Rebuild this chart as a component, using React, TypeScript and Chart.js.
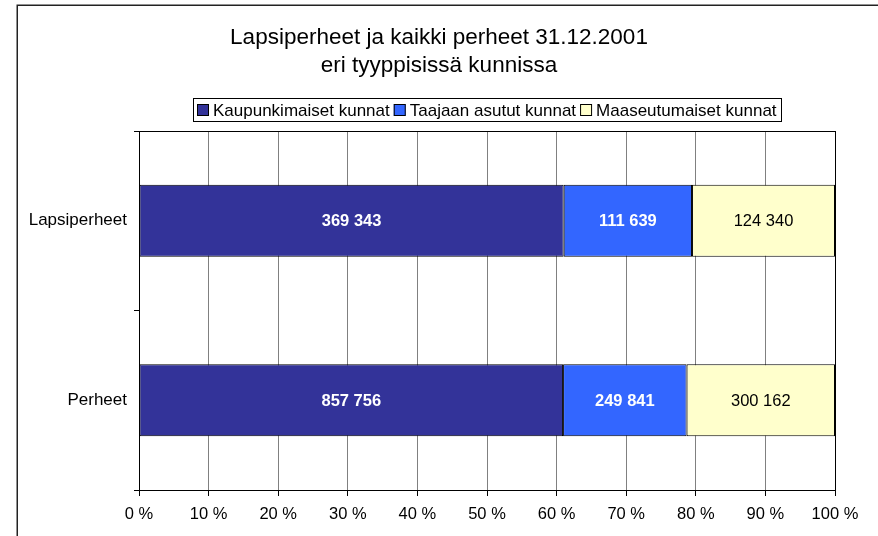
import React, { useEffect, useRef } from 'react';
import { Chart, registerables } from 'chart.js';

Chart.register(...registerables);

// ---- data ----
const categories = ['Lapsiperheet', 'Perheet'];
const seriesNames = ['Kaupunkimaiset kunnat', 'Taajaan asutut kunnat', 'Maaseutumaiset kunnat'];
const kaupunkimaiset = [369343, 857756];
const taajaanAsutut = [111639, 249841];
const maaseutumaiset = [124340, 300162];
const titleLines = ['Lapsiperheet ja kaikki perheet 31.12.2001', 'eri tyyppisissä kunnissa'];
const xTickMin = 0;
const xTickMax = 100;
const xTickStep = 10;

const seriesValues = [kaupunkimaiset, taajaanAsutut, maaseutumaiset];
const FONT = '"Liberation Sans", Arial, Helvetica, sans-serif';

const fmt = (v: number) => String(v).replace(/\B(?=(\d{3})+(?!\d))/g, ' ');

export default function App() {
  const ref = useRef<HTMLCanvasElement | null>(null);

  useEffect(() => {
    if (!ref.current) return;
    const totals = categories.map((_, i) => seriesValues.reduce((s, arr) => s + arr[i], 0));
    const fills = ['#333399', '#3366FF', '#FFFFCC'];
    const labelColors = ['#FFFFFF', '#FFFFFF', '#000000'];
    const labelWeights = ['bold', 'bold', 'normal'];

    const datasets = seriesValues.map((arr, k) => ({
      label: seriesNames[k],
      data: arr.map((v, i) => (v / totals[i]) * 100),
      backgroundColor: fills[k],
      borderColor: '#000000',
      borderWidth: 1,
      borderSkipped: false,
      categoryPercentage: 1,
      barPercentage: 0.4,
    }));

    const framePlugin = {
      id: 'frame',
      beforeDraw(chart: any) {
        const c = chart.ctx;
        c.save();
        c.strokeStyle = '#222';
        c.lineWidth = 1.5;
        c.strokeRect(17.25, 5.25, 2000, 2000);
        c.restore();
      },
    };

    const titlePlugin = {
      id: 'twoLineTitle',
      afterDraw(chart: any) {
        const c = chart.ctx;
        c.save();
        c.font = `22.5px ${FONT}`;
        c.fillStyle = '#000';
        c.textAlign = 'center';
        c.textBaseline = 'alphabetic';
        const cx = chart.width / 2;
        titleLines.forEach((line, i) => {
          c.fillText(line, cx, 43.5 + i * 28.4);
        });
        c.restore();
      },
    };

    const borderPlugin = {
      id: 'plotBorder',
      afterDatasetsDraw(chart: any) {
        const { left, top, right, bottom } = chart.chartArea;
        const c = chart.ctx;
        c.save();
        c.strokeStyle = '#000';
        c.lineWidth = 1;
        c.strokeRect(Math.round(left) + 0.5, Math.round(top) + 0.5, Math.round(right - left), Math.round(bottom - top));
        c.restore();
      },
    };

    const valueLabels = {
      id: 'valueLabels',
      afterDatasetsDraw(chart: any) {
        const c = chart.ctx;
        c.save();
        c.textAlign = 'center';
        c.textBaseline = 'middle';
        chart.data.datasets.forEach((ds: any, k: number) => {
          const meta = chart.getDatasetMeta(k);
          meta.data.forEach((el: any, i: number) => {
            const x = (el.x + el.base) / 2;
            c.fillStyle = labelColors[k];
            c.font = `${labelWeights[k]} 16.5px ${FONT}`;
            c.fillText(fmt(seriesValues[k][i]), x, el.y + 1);
          });
        });
        c.restore();
      },
    };

    const legendPlugin = {
      id: 'boxLegend',
      afterDraw(chart: any) {
        const c = chart.ctx;
        const area = chart.chartArea;
        c.save();
        c.font = `17px ${FONT}`;
        const sw = 12;
        const gap = 4;
        const itemGap = 4;
        const pad = 4;
        const widths = chart.data.datasets.map((d: any) => c.measureText(d.label).width);
        const total = pad * 2 + widths.reduce((s: number, w: number) => s + w + sw + gap, 0) + itemGap * (widths.length - 1);
        const cx = (area.left + area.right) / 2;
        const bx = Math.round(cx - total / 2);
        const by = 98;
        const bh = 23;
        c.strokeStyle = '#000';
        c.lineWidth = 1;
        c.strokeRect(bx + 0.5, by + 0.5, Math.round(total), bh);
        let x = bx + pad;
        const mid = by + bh / 2 + 0.5;
        c.textBaseline = 'middle';
        c.textAlign = 'left';
        chart.data.datasets.forEach((d: any, k: number) => {
          c.fillStyle = d.backgroundColor;
          c.fillRect(x, Math.round(mid - sw / 2), sw, sw);
          c.strokeStyle = '#000';
          c.strokeRect(x + 0.5, Math.round(mid - sw / 2) + 0.5, sw - 1, sw - 1);
          x += sw + gap;
          c.fillStyle = '#000';
          c.fillText(d.label, x, mid + 1);
          x += widths[k] + itemGap;
        });
        c.restore();
      },
    };

    const chart = new Chart(ref.current, {
      type: 'bar',
      data: { labels: categories, datasets },
      options: {
        animation: false,
        responsive: true,
        maintainAspectRatio: false,
        indexAxis: 'y',
        layout: { padding: { left: 0, right: 43, top: 131, bottom: 0 } },
        plugins: {
          legend: { display: false },
          tooltip: { enabled: false },
          title: { display: false },
        },
        scales: {
          x: {
            stacked: true,
            min: xTickMin,
            max: xTickMax,
            ticks: {
              stepSize: xTickStep,
              color: '#000',
              padding: 9,
              maxRotation: 0,
              font: { family: FONT, size: 16.5 },
              callback: (v: any) => `${v} %`,
            },
            grid: {
              color: '#808080',
              tickColor: '#000',
              tickLength: 6,
              lineWidth: 1,
            },
            border: { display: true, color: '#000' },
            afterFit: (s: any) => {
              s.height = 46;
            },
          },
          y: {
            stacked: true,
            ticks: {
              color: '#000',
              padding: 7,
              font: { family: FONT, size: 17 },
            },
            grid: {
              offset: true,
              drawOnChartArea: false,
              drawTicks: true,
              tickLength: 5,
              color: '#000',
            },
            border: { display: true, color: '#000' },
            afterFit: (s: any) => {
              s.width = 139;
            },
          },
        },
      },
      plugins: [framePlugin, borderPlugin, valueLabels, legendPlugin, titlePlugin],
    } as any);

    return () => chart.destroy();
  }, []);

  return (
    <div style={{ position: 'absolute', left: 0, top: 0, width: 878, height: 536, background: '#fff' }}>
      <canvas ref={ref} />
    </div>
  );
}
